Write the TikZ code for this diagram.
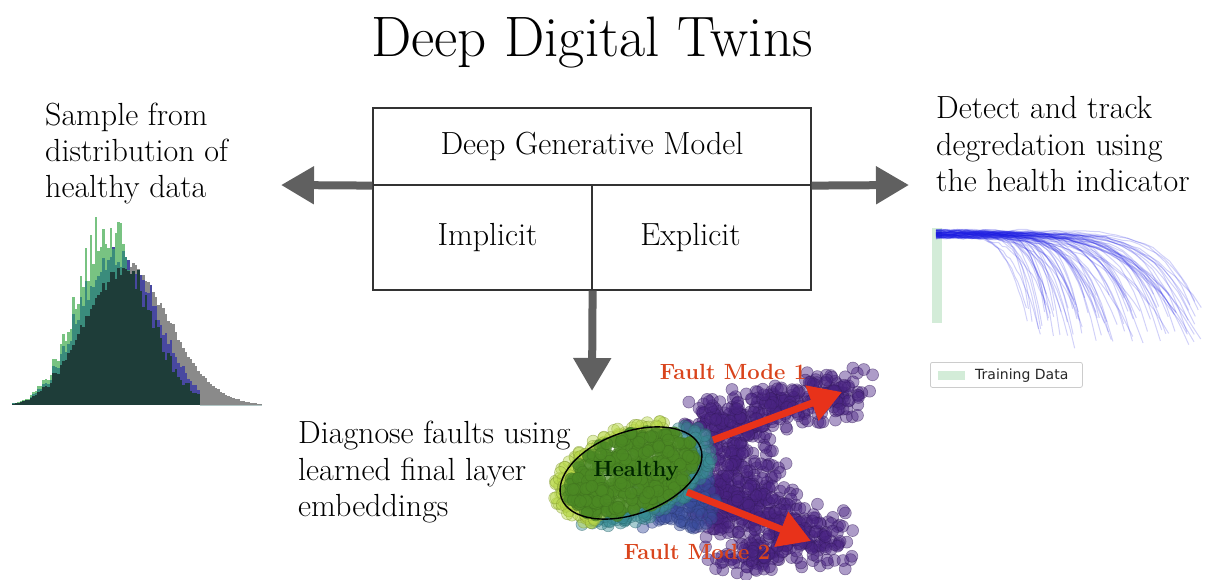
\documentclass[tikz,border=0pt]{standalone}
\usepackage{fontspec}
\newfontfamily\legendfont{DejaVu Sans}
\usetikzlibrary{arrows.meta}

\definecolor{arrowgray}{HTML}{606060}
\definecolor{boxline}{HTML}{333333}
\definecolor{histgray}{HTML}{8A8A8A}
\definecolor{histblue}{HTML}{4848A0}
\definecolor{histgreen}{HTML}{78C382}
\definecolor{histteal}{HTML}{3A8C7C}
\definecolor{histdark}{HTML}{1E3D39}
\definecolor{curveblue}{HTML}{1A1AE0}
\definecolor{traingreen}{HTML}{D3ECD8}
\definecolor{legendgray}{HTML}{CCCCCC}
\definecolor{faultred}{HTML}{D9441C}
\definecolor{arrowred}{HTML}{E8321A}
\definecolor{fpurple}{HTML}{4A2484}
\definecolor{fblue}{HTML}{3A4E9E}
\definecolor{fteal}{HTML}{3A8E96}
\definecolor{fyellow}{HTML}{B8D848}
\definecolor{fgreen}{HTML}{4C8A24}

\begin{document}
\begin{tikzpicture}[x=1pt,y=-1pt,
  txt/.style={anchor=base west, inner sep=0pt, font=\fontsize{32}{38}\selectfont},
  cell/.style={draw=boxline, line width=1.2pt, inner sep=0pt, font=\fontsize{32}{38}\selectfont},
  bigarrow/.style={draw=arrowgray, line width=8pt, -{Triangle[length=33pt,width=36pt]}},
  redarrow/.style={draw=arrowred, line width=7pt, -{Triangle[length=32pt,width=36pt]}},
  fault/.style={text=faultred, font=\bfseries\fontsize{22}{26}\selectfont, inner sep=0pt},
  hcurve/.style={draw=curveblue, draw opacity=0.2, line width=1pt},
  sdot/.style={draw=#1!70!black, fill=#1, fill opacity=0.45, draw opacity=0.5, line width=0.6pt},
  cdot/.style={draw=#1!80!black, fill=#1, fill opacity=0.7, draw opacity=0.5, line width=0.6pt}]
\useasboundingbox (0,0) rectangle (1215,579);

% ---- title ----
\node[anchor=base, inner sep=0pt, font=\fontsize{57}{64}\selectfont] (title) at (592,56) {Deep Digital Twins};

% ---- model box ----
\node[cell, minimum width=438pt, minimum height=77pt] (top) at (592,146.5) {Deep Generative Model};
\node[cell, minimum width=219pt, minimum height=105pt] (imp) at (482.5,237.5) {\hspace*{10pt}Implicit};
\node[cell, minimum width=219pt, minimum height=105pt] (exp) at (701.5,237.5) {Explicit\hspace*{22pt}};

\coordinate (tipL) at (281,185);
\coordinate (tipR) at (909,185);
\coordinate (tipD) at (592,391);
\draw[bigarrow] (top.south west) -- (tipL);
\draw[bigarrow] (top.south east) -- (tipR);
\draw[bigarrow] (imp.south east) -- (tipD);

% ---- captions ----
\node[txt] (s1) at (45,125) {Sample from};
\node[txt] (s2) at (45,161) {distribution of};
\node[txt] (s3) at (45,197) {healthy data};

\node[txt] (d1) at (936,118) {Detect and track};
\node[txt] (d2) at (936,155) {degredation using};
\node[txt] (d3) at (936,191) {the health indicator};

\node[txt] (g1) at (298,443) {Diagnose faults using};
\node[txt] (g2) at (298,480) {learned final layer};
\node[txt] (g3) at (298,516) {embeddings};

% ---- histograms of healthy data ----
\pgfmathsetseed{2718}
\foreach \i in {0,...,99}{
  \pgfmathsetmacro\xa{12+2.5*\i}
  \pgfmathsetmacro\xc{\xa+1.25}
  \pgfmathsetmacro\zg{(\xc-126)/(\xc<126 ? 42 : 44)}
  \pgfmathsetmacro\hgraw{137*exp(max(-9,-0.5*\zg*\zg))*(1+0.05*rand)}
  \pgfmathsetmacro\zb{(\xc-122)/(\xc<122 ? 60 : 36)}
  \pgfmathsetmacro\hbraw{(\xc>200 ? 0 : 150*exp(max(-9,-0.5*\zb*\zb)))*(1+0.1*rand)}
  \pgfmathsetmacro\zr{(\xc-108)/(\xc<108 ? 32 : 38)}
  \pgfmathsetmacro\hrraw{172*exp(max(-9,-0.5*\zr*\zr))*(1+0.18*rand)}
  % left of the mode the green sample covers the others, right of it the reverse
  \pgfmathsetmacro\hb{\xc<108 ? min(\hbraw,0.84*\hrraw) : \hbraw}
  \pgfmathsetmacro\hr{\xc>124 ? min(\hrraw,\hbraw) : \hrraw}
  \pgfmathsetmacro\hg{\xc<110 ? min(\hgraw,0.85*\hb) : \hgraw}
  \pgfmathsetmacro\ht{min(\hb,\hr)}
  \pgfmathsetmacro\hd{min(\ht,\hg)}
  \fill[histgray]  (\xa,405) rectangle ++(2.6,-\hg);
  \fill[histblue]  (\xa,405) rectangle ++(2.6,-\hb);
  \fill[histgreen] (\xa,405) rectangle ++(2.6,-\hr);
  \fill[histteal]  (\xa,405) rectangle ++(2.6,-\ht);
  \fill[histdark]  (\xa,405) rectangle ++(2.6,-\hd);
}

% ---- health indicator trajectories ----
\fill[traingreen] (932,228) rectangle (942,323);
\pgfmathsetseed{31415}
\foreach \k in {1,...,90}{
  \pgfmathsetmacro\xf{1025+180*rnd}
  \pgfmathsetmacro\dd{60+50*rnd}
  \pgfmathsetmacro\pp{4+5*rnd}
  \pgfmathsetmacro\yo{230+8*rnd}
  \draw[hcurve] plot[domain=936:\xf, samples=32]
    (\x,{\yo+\dd*exp(max(-9,\pp*ln(max(0.01,(\x-935)/(\xf-935)))))+1.2*rand});
}
\node[draw=legendgray, line width=0.8pt, rounded corners=2pt, minimum width=152pt,
      minimum height=25pt, anchor=north west, inner sep=0pt] (legend) at (930,362) {};
\fill[traingreen] (938,371) rectangle (965,380);
\node[anchor=west, inner sep=0pt, text=black!85, font=\legendfont\fontsize{14}{16}\selectfont] (legtxt) at (975,375.5) {Training Data};

% ---- embedding scatter ----
\pgfmathsetseed{1618}
% central body of the faulty embeddings
\foreach \k in {1,...,260}{
  \pgfmathsetmacro\px{735+28*(rand+rand)}
  \pgfmathsetmacro\py{472+42*(rand+rand)}
  \path[sdot=fpurple] (\px,\py) circle[radius=6pt];
}
% upper fault lobe
\foreach \k in {1,...,300}{
  \pgfmathsetmacro\t{rnd}
  \pgfmathsetmacro\px{700+155*\t+16*(rand+rand)}
  \pgfmathsetmacro\py{428-38*\t+15*(rand+rand)}
  \path[sdot=fpurple] (\px,\py) circle[radius=6pt];
}
% lower fault lobe
\foreach \k in {1,...,340}{
  \pgfmathsetmacro\t{rnd}
  \pgfmathsetmacro\px{700+135*\t+18*(rand+rand)}
  \pgfmathsetmacro\py{492+52*\t+19*(rand+rand)}
  \path[sdot=fpurple] (\px,\py) circle[radius=6pt];
}
\foreach \k in {1,...,70}{
  \pgfmathsetmacro\px{755+25*(rand+rand)}
  \pgfmathsetmacro\py{558+10*(rand+rand)}
  \path[sdot=fpurple] (\px,\py) circle[radius=6pt];
}
% transition region
\foreach \k in {1,...,160}{
  \pgfmathsetmacro\px{678+24*(rand+rand)}
  \pgfmathsetmacro\py{500+16*(rand+rand)}
  \path[sdot=fblue] (\px,\py) circle[radius=6pt];
}
% rim of the healthy cluster: teal below and right, yellow-green left and above
\foreach \k in {1,...,130}{
  \pgfmathsetmacro\th{-40+180*rnd}
  \pgfmathsetmacro\rr{0.85+0.3*rnd}
  \pgfmathsetmacro\A{74*\rr*cos(\th)}
  \pgfmathsetmacro\B{42*\rr*sin(\th)}
  \pgfmathsetmacro\px{631+0.9397*\A+0.3420*\B}
  \pgfmathsetmacro\py{473-0.3420*\A+0.9397*\B}
  \path[sdot=fteal] (\px,\py) circle[radius=6pt];
}
\foreach \k in {1,...,130}{
  \pgfmathsetmacro\th{130+180*rnd}
  \pgfmathsetmacro\rr{0.85+0.25*rnd}
  \pgfmathsetmacro\A{74*\rr*cos(\th)}
  \pgfmathsetmacro\B{42*\rr*sin(\th)}
  \pgfmathsetmacro\px{631+0.9397*\A+0.3420*\B}
  \pgfmathsetmacro\py{473-0.3420*\A+0.9397*\B}
  \path[sdot=fyellow] (\px,\py) circle[radius=6pt];
}
% healthy core
\foreach \k in {1,...,420}{
  \pgfmathsetmacro\th{360*rnd}
  \pgfmathsetmacro\rr{0.92*sqrt(rnd)}
  \pgfmathsetmacro\A{74*\rr*cos(\th)}
  \pgfmathsetmacro\B{42*\rr*sin(\th)}
  \pgfmathsetmacro\px{631+0.9397*\A+0.3420*\B}
  \pgfmathsetmacro\py{473-0.3420*\A+0.9397*\B}
  \path[cdot=fgreen] (\px,\py) circle[radius=6pt];
}
\draw[line width=1.4pt, rotate around={20:(631,473)}] (631,473) ellipse[x radius=74pt, y radius=41pt];
\node[inner sep=0pt, text=black!85!green, font=\bfseries\fontsize{22}{26}\selectfont] (healthy) at (636,471) {Healthy};

\coordinate (fm1s) at (713,440);
\coordinate (fm1e) at (842,392);
\coordinate (fm2s) at (687,492);
\coordinate (fm2e) at (811,541);
\draw[redarrow] (fm1s) -- (fm1e);
\draw[redarrow] (fm2s) -- (fm2e);
\node[fault] (fm1) at (733,372) {Fault Mode 1};
\node[fault] (fm2) at (697,552) {Fault Mode 2};
\end{tikzpicture}
\end{document}
